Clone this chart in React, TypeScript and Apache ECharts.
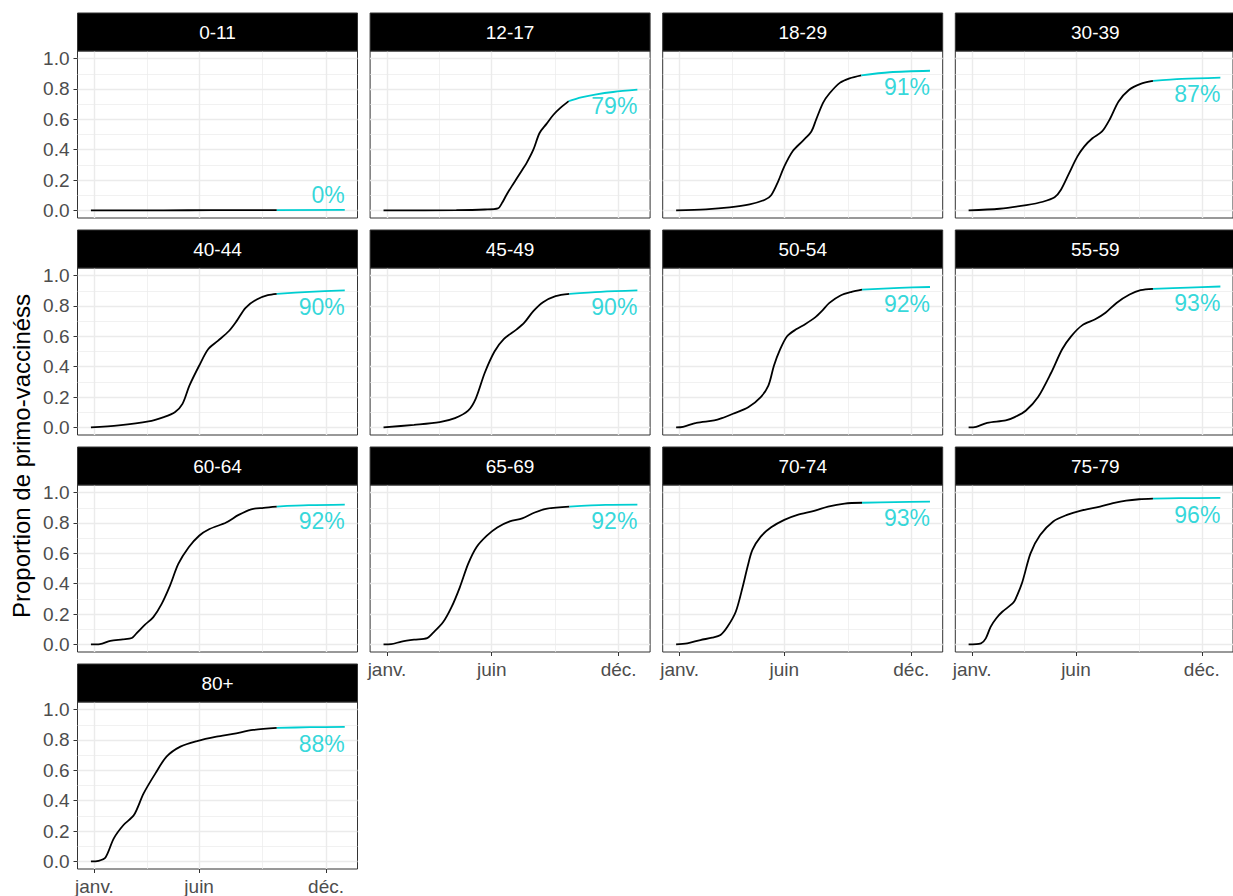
import React, { useEffect, useRef } from 'react';
import * as echarts from 'echarts';

const groups = ['0-11', '12-17', '18-29', '30-39', '40-44', '45-49', '50-54', '55-59', '60-64', '65-69', '70-74', '75-79', '80+'];
const pctLabels = ['0%', '79%', '91%', '87%', '90%', '90%', '92%', '93%', '92%', '92%', '93%', '96%', '88%'];

// x in days since 1 Jan 2021
const xTickValues = [0, 151, 334];
const xTickLabels = ['janv.', 'juin', 'déc.'];
const xMinorValues = [75.5, 242.5];
const yTickValues = [0, 0.2, 0.4, 0.6, 0.8, 1.0];
const yMinorValues = [0.1, 0.3, 0.5, 0.7, 0.9];

// observed (black) series: [day, proportion]
const obs0_11 = [[-5, 0], [100, 0], [170, 0.002], [263, 0.002]];
const obs12_17 = [[-5, 0], [100, 0.002], [141, 0.006], [160, 0.013], [166, 0.05], [172, 0.1], [180, 0.16], [187, 0.21], [194, 0.26], [201, 0.31], [211, 0.4], [220, 0.51], [230, 0.57], [240, 0.63], [250, 0.675], [262, 0.72]];
const obs18_29 = [[-5, 0], [38, 0.007], [72, 0.02], [101, 0.04], [123, 0.07], [132, 0.1], [142, 0.19], [151, 0.29], [163, 0.39], [178, 0.46], [190, 0.52], [197, 0.6], [207, 0.71], [216, 0.77], [231, 0.84], [245, 0.87], [262, 0.89]];
const obs30_39 = [[-5, 0], [40, 0.011], [79, 0.035], [103, 0.057], [120, 0.086], [129, 0.134], [141, 0.244], [153, 0.354], [163, 0.42], [175, 0.475], [189, 0.52], [201, 0.607], [213, 0.717], [228, 0.793], [245, 0.833], [263, 0.853]];
const obs40_44 = [[-5, 0], [35, 0.013], [78, 0.039], [100, 0.068], [116, 0.1], [127, 0.155], [137, 0.275], [151, 0.406], [164, 0.515], [178, 0.57], [194, 0.635], [205, 0.7], [218, 0.788], [234, 0.843], [250, 0.871], [263, 0.88]];
const obs45_49 = [[-5, 0], [39, 0.017], [76, 0.035], [98, 0.061], [117, 0.11], [128, 0.19], [141, 0.36], [155, 0.5], [168, 0.58], [187, 0.646], [198, 0.69], [211, 0.766], [225, 0.825], [243, 0.865], [263, 0.88]];
const obs50_54 = [[-5, 0], [5, 0.004], [24, 0.03], [50, 0.046], [61, 0.061], [77, 0.09], [99, 0.133], [117, 0.2], [128, 0.275], [136, 0.406], [144, 0.504], [155, 0.6], [168, 0.646], [181, 0.68], [195, 0.723], [205, 0.766], [216, 0.82], [232, 0.869], [248, 0.893], [263, 0.908]];
const obs55_59 = [[-5, 0], [6, 0.004], [22, 0.03], [49, 0.046], [62, 0.068], [78, 0.11], [96, 0.2], [115, 0.36], [131, 0.515], [144, 0.6], [160, 0.672], [179, 0.712], [194, 0.755], [210, 0.82], [229, 0.875], [245, 0.904], [263, 0.913]];
const obs60_64 = [[-5, 0], [8, 0.002], [23, 0.024], [41, 0.033], [54, 0.042], [61, 0.074], [73, 0.13], [85, 0.18], [97, 0.267], [109, 0.387], [121, 0.53], [136, 0.64], [151, 0.716], [166, 0.76], [190, 0.803], [208, 0.853], [226, 0.89], [244, 0.9], [263, 0.908]];
const obs65_69 = [[-5, 0], [6, 0.002], [21, 0.018], [39, 0.031], [58, 0.042], [66, 0.074], [81, 0.147], [93, 0.245], [105, 0.376], [117, 0.53], [129, 0.64], [144, 0.716], [159, 0.77], [177, 0.81], [195, 0.83], [213, 0.869], [231, 0.895], [263, 0.908]];
const obs70_74 = [[-5, 0], [11, 0.007], [30, 0.029], [47, 0.044], [59, 0.062], [69, 0.116], [81, 0.215], [91, 0.38], [98, 0.512], [105, 0.622], [117, 0.71], [132, 0.771], [151, 0.82], [170, 0.853], [194, 0.879], [214, 0.908], [238, 0.928], [263, 0.933]];
const obs75_79 = [[-5, 0], [13, 0.007], [20, 0.04], [27, 0.116], [35, 0.171], [44, 0.215], [59, 0.27], [63, 0.297], [73, 0.41], [85, 0.6], [99, 0.72], [118, 0.81], [138, 0.853], [157, 0.88], [186, 0.908], [205, 0.93], [224, 0.947], [243, 0.956], [263, 0.96]];
const obs80p = [[-5, 0], [6, 0.004], [16, 0.026], [28, 0.152], [42, 0.24], [57, 0.305], [71, 0.448], [88, 0.58], [104, 0.69], [124, 0.756], [148, 0.793], [176, 0.822], [200, 0.84], [229, 0.866], [263, 0.879]];

// projected (cyan) series
const proj0_11 = [[263, 0.002], [361, 0.003]];
const proj12_17 = [[262, 0.72], [280, 0.745], [300, 0.763], [326, 0.78], [361, 0.795]];
const proj18_29 = [[262, 0.89], [303, 0.91], [361, 0.92]];
const proj30_39 = [[263, 0.853], [305, 0.866], [361, 0.875]];
const proj40_44 = [[263, 0.88], [310, 0.893], [361, 0.903]];
const proj45_49 = [[263, 0.88], [308, 0.893], [361, 0.902]];
const proj50_54 = [[263, 0.908], [317, 0.919], [361, 0.925]];
const proj55_59 = [[263, 0.913], [314, 0.921], [361, 0.928]];
const proj60_64 = [[263, 0.908], [309, 0.917], [361, 0.921]];
const proj65_69 = [[263, 0.908], [315, 0.919], [361, 0.921]];
const proj70_74 = [[263, 0.933], [310, 0.937], [361, 0.94]];
const proj75_79 = [[263, 0.96], [301, 0.963], [361, 0.965]];
const proj80p = [[263, 0.879], [311, 0.884], [361, 0.886]];

const observed = [obs0_11, obs12_17, obs18_29, obs30_39, obs40_44, obs45_49, obs50_54, obs55_59, obs60_64, obs65_69, obs70_74, obs75_79, obs80p];
const projected = [proj0_11, proj12_17, proj18_29, proj30_39, proj40_44, proj45_49, proj50_54, proj55_59, proj60_64, proj65_69, proj70_74, proj75_79, proj80p];

const FONT = '"Liberation Sans", Arial, sans-serif';
const CYAN = '#00CED1';

export default function App() {
  const ref = useRef<HTMLDivElement>(null);
  useEffect(() => {
    if (!ref.current) return;
    const chart = echarts.init(ref.current, undefined, { renderer: 'svg' });
    const grids: any[] = [];
    const xAxes: any[] = [];
    const yAxes: any[] = [];
    const series: any[] = [];
    const graphics: any[] = [];
    const W = 280, H = 167, SH = 38;
    const xMin = -24.35, xMax = 379.35;
    groups.forEach((g, i) => {
      const r = Math.floor(i / 4), c = i % 4;
      const L = 77.5 + c * 292.6;
      const ST = 13 + r * 217;
      const T = ST + SH;
      const showX = i >= 9;
      const showY = c === 0;
      grids.push({ left: L, top: T, width: W, height: H, show: true, borderColor: '#333333', borderWidth: 1, backgroundColor: '#ffffff', containLabel: false });
      xAxes.push({
        type: 'value', gridIndex: i, min: xMin, max: xMax,
        axisLine: { show: false, onZero: false },
        axisTick: { show: showX, customValues: xTickValues, length: 4, lineStyle: { color: '#333333', width: 1 } },
        axisLabel: {
          show: showX, customValues: xTickValues, margin: 8, color: '#4D4D4D', fontSize: 19, fontFamily: FONT,
          formatter: (v: number) => {
            const k = xTickValues.findIndex((t) => Math.abs(t - v) < 0.01);
            return k >= 0 ? xTickLabels[k] : '';
          },
        },
        splitLine: { show: true, lineStyle: { color: '#EBEBEB', width: 1.4 } },
      });
      xAxes.push({
        type: 'value', gridIndex: i, min: xMin, max: xMax,
        axisLine: { show: false, onZero: false },
        axisTick: { show: false, customValues: xMinorValues },
        axisLabel: { show: false, customValues: xMinorValues },
        splitLine: { show: true, lineStyle: { color: '#EBEBEB', width: 0.7 } },
      });
      yAxes.push({
        type: 'value', gridIndex: i, min: -0.05, max: 1.05,
        axisLine: { show: false, onZero: false },
        axisTick: { show: showY, customValues: yTickValues, length: 4, lineStyle: { color: '#333333', width: 1 } },
        axisLabel: {
          show: showY, customValues: yTickValues, margin: 8, color: '#4D4D4D', fontSize: 19, fontFamily: FONT,
          formatter: (v: number) => v.toFixed(1),
        },
        splitLine: { show: true, lineStyle: { color: '#EBEBEB', width: 1.4 } },
      });
      yAxes.push({
        type: 'value', gridIndex: i, min: -0.05, max: 1.05,
        axisLine: { show: false, onZero: false },
        axisTick: { show: false, customValues: yMinorValues },
        axisLabel: { show: false, customValues: yMinorValues },
        splitLine: { show: true, lineStyle: { color: '#EBEBEB', width: 0.7 } },
      });
      series.push({
        type: 'line', xAxisIndex: 2 * i, yAxisIndex: 2 * i, data: observed[i], smooth: 0.3,
        showSymbol: false, symbol: 'none', lineStyle: { color: '#000000', width: 1.8 }, z: 3,
      });
      series.push({
        type: 'line', xAxisIndex: 2 * i, yAxisIndex: 2 * i, data: projected[i], smooth: 0.3,
        showSymbol: false, symbol: 'none', lineStyle: { color: CYAN, width: 1.8 }, z: 3,
      });
      const last = projected[i][projected[i].length - 1];
      const ly = last[1] > 0.2 ? last[1] - 0.11 : last[1] + 0.1;
      series.push({
        type: 'scatter', xAxisIndex: 2 * i, yAxisIndex: 2 * i, symbolSize: 0, z: 4,
        data: [[last[0], ly]],
        label: {
          show: true, position: 'left', distance: 0, formatter: () => pctLabels[i],
          color: CYAN, fontSize: 23, fontFamily: FONT, align: 'right', verticalAlign: 'middle',
        },
      });
      graphics.push({
        type: 'rect', shape: { x: L, y: ST, width: W, height: SH },
        style: { fill: '#000000', stroke: '#333333', lineWidth: 1 }, z: 10,
      });
      graphics.push({
        type: 'text', x: L + W / 2, y: ST + SH / 2, z: 11,
        style: { text: g, fill: '#ffffff', fontSize: 19, fontFamily: FONT, align: 'center', verticalAlign: 'middle' },
      });
    });
    graphics.push({
      type: 'text', x: 21, y: 456, rotation: Math.PI / 2, z: 11,
      style: { text: 'Proportion de primo-vaccinéss', fill: '#000000', fontSize: 24, fontFamily: FONT, align: 'center', verticalAlign: 'middle' },
    });
    chart.setOption({
      animation: false,
      backgroundColor: '#ffffff',
      grid: grids,
      xAxis: xAxes,
      yAxis: yAxes,
      series,
      graphic: graphics,
    });
    return () => chart.dispose();
  }, []);
  return <div ref={ref} style={{ position: 'absolute', left: 0, top: 0, width: 1233, height: 896 }} />;
}
